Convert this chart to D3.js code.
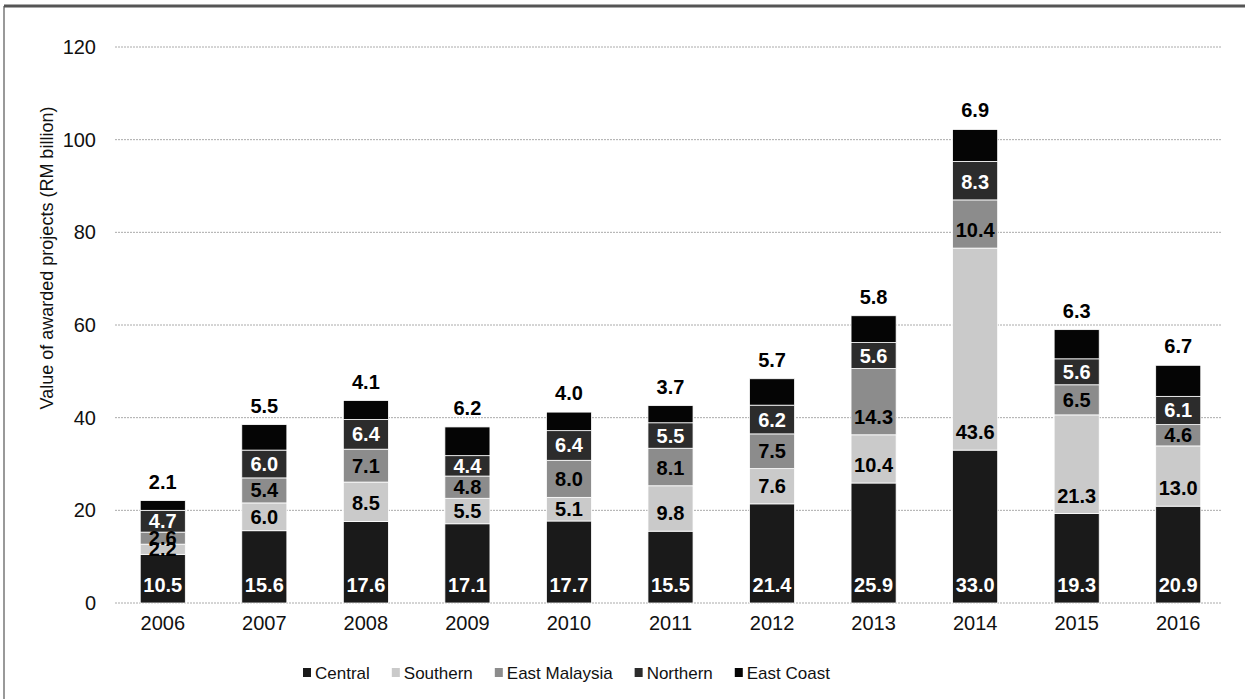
<!DOCTYPE html>
<html>
<head>
<meta charset="utf-8">
<script src="https://cdn.jsdelivr.net/npm/d3@7"></script>
<style>
  body { margin: 0; background: #fff; }
  svg { font-family: Arial, "Liberation Sans", sans-serif; }
</style>
</head>
<body>
<svg id="chart" width="1245" height="699"></svg>
<script>
const years = ["2006", "2007", "2008", "2009", "2010", "2011", "2012", "2013", "2014", "2015", "2016"];
const regions = ["Central", "Southern", "East Malaysia", "Northern", "East Coast"];

const central      = [10.5, 15.6, 17.6, 17.1, 17.7, 15.5, 21.4, 25.9, 33.0, 19.3, 20.9];
const southern     = [2.2, 6.0, 8.5, 5.5, 5.1, 9.8, 7.6, 10.4, 43.6, 21.3, 13.0];
const eastMalaysia = [2.6, 5.4, 7.1, 4.8, 8.0, 8.1, 7.5, 14.3, 10.4, 6.5, 4.6];
const northern     = [4.7, 6.0, 6.4, 4.4, 6.4, 5.5, 6.2, 5.6, 8.3, 5.6, 6.1];
const eastCoast    = [2.1, 5.5, 4.1, 6.2, 4.0, 3.7, 5.7, 5.8, 6.9, 6.3, 6.7];

const yTicks = [0, 20, 40, 60, 80, 100, 120];

const fills = ["#1a1a1a", "#cacaca", "#8c8c8c", "#2c2c2c", "#050505"];
const labelColors = ["#fff", "#000", "#000", "#fff", "#000"];

const series_values = [central, southern, eastMalaysia, northern, eastCoast];
const table = years.map((yr, i) => {
    let row = { year: yr };
    regions.forEach((r, k) => row[r] = series_values[k][i]);
    return row;
});

const svg = d3.select("#chart");

// frame left over from the scanned page
svg.append("line").attr("x1", 4).attr("x2", 4).attr("y1", 6).attr("y2", 699)
    .attr("stroke", "#777").attr("stroke-width", 1.5);
svg.append("line").attr("x1", 4).attr("x2", 1245).attr("y1", 6).attr("y2", 6)
    .attr("stroke", "#555").attr("stroke-width", 3);

const x = d3.scaleBand().domain(years).range([112, 1229])
    .paddingInner(0.556).paddingOuter(0.278);
const y = d3.scaleLinear().domain([0, 120]).range([603, 47]);

// grid
svg.append("g").selectAll("line")
    .data(yTicks)
    .join("line")
    .attr("x1", 115).attr("x2", 1222)
    .attr("y1", d => y(d)).attr("y2", d => y(d))
    .attr("stroke", "#aaa")
    .attr("stroke-width", 1)
    .attr("stroke-dasharray", "2,1");

// y axis labels
const yAxis = svg.append("g")
    .attr("transform", "translate(96,0)")
    .call(d3.axisLeft(y).tickValues(yTicks).tickSize(0).tickPadding(0));
yAxis.select(".domain").remove();
yAxis.selectAll("text")
    .attr("font-size", "20px")
    .attr("font-family", "Arial, 'Liberation Sans', sans-serif")
    .attr("fill", "#111");

// x axis labels
const xAxis = svg.append("g")
    .attr("transform", "translate(0,616)")
    .call(d3.axisBottom(x).tickSize(0).tickPadding(0));
xAxis.select(".domain").remove();
xAxis.selectAll("text")
    .attr("font-size", "20px")
    .attr("font-family", "Arial, 'Liberation Sans', sans-serif")
    .attr("fill", "#111");

svg.append("text")
    .attr("transform", "translate(53,258) rotate(-90)")
    .attr("text-anchor", "middle")
    .attr("font-size", "18px")
    .attr("fill", "#111")
    .text("Value of awarded projects (RM billion)");

// stacked bars
const stacked = d3.stack().keys(regions)(table);

const layer = svg.append("g").selectAll("g")
    .data(stacked)
    .join("g")
    .attr("fill", (d, i) => fills[i]);

layer.selectAll("rect")
    .data(d => d)
    .join("rect")
    .attr("x", d => x(d.data.year))
    .attr("width", x.bandwidth())
    .attr("y", d => y(d[1]))
    .attr("height", d => y(d[0]) - y(d[1]))
    .attr("stroke", "#fff")
    .attr("stroke-width", 0.8);

// value labels: East Coast above the bar, the rest near the segment base
stacked.forEach((s, k) => {
    svg.append("g").selectAll("text")
        .data(s)
        .join("text")
        .attr("x", d => x(d.data.year) + x.bandwidth() / 2)
        .attr("y", d => {
            if (k === 4) return y(d[1]) - 12;
            let center = (y(d[0]) + y(d[1])) / 2 + 7;
            return Math.max(center, y(d[0]) - 11);
        })
        .attr("text-anchor", "middle")
        .attr("font-size", "20px")
        .attr("font-weight", "bold")
        .attr("fill", labelColors[k])
        .text(d => (d[1] - d[0]).toFixed(1));
});

// legend
const legend = svg.append("g").attr("transform", "translate(303,673)");
let lx = 0;
regions.forEach((r, i) => {
    legend.append("rect")
        .attr("x", lx).attr("y", -5)
        .attr("width", 8).attr("height", 9)
        .attr("fill", fills[i]);
    const t = legend.append("text")
        .attr("x", lx + 12).attr("y", 6)
        .attr("font-size", "17px")
        .attr("fill", "#111")
        .text(r);
    lx += 12 + t.node().getComputedTextLength() + 22;
});
</script>
</body>
</html>
